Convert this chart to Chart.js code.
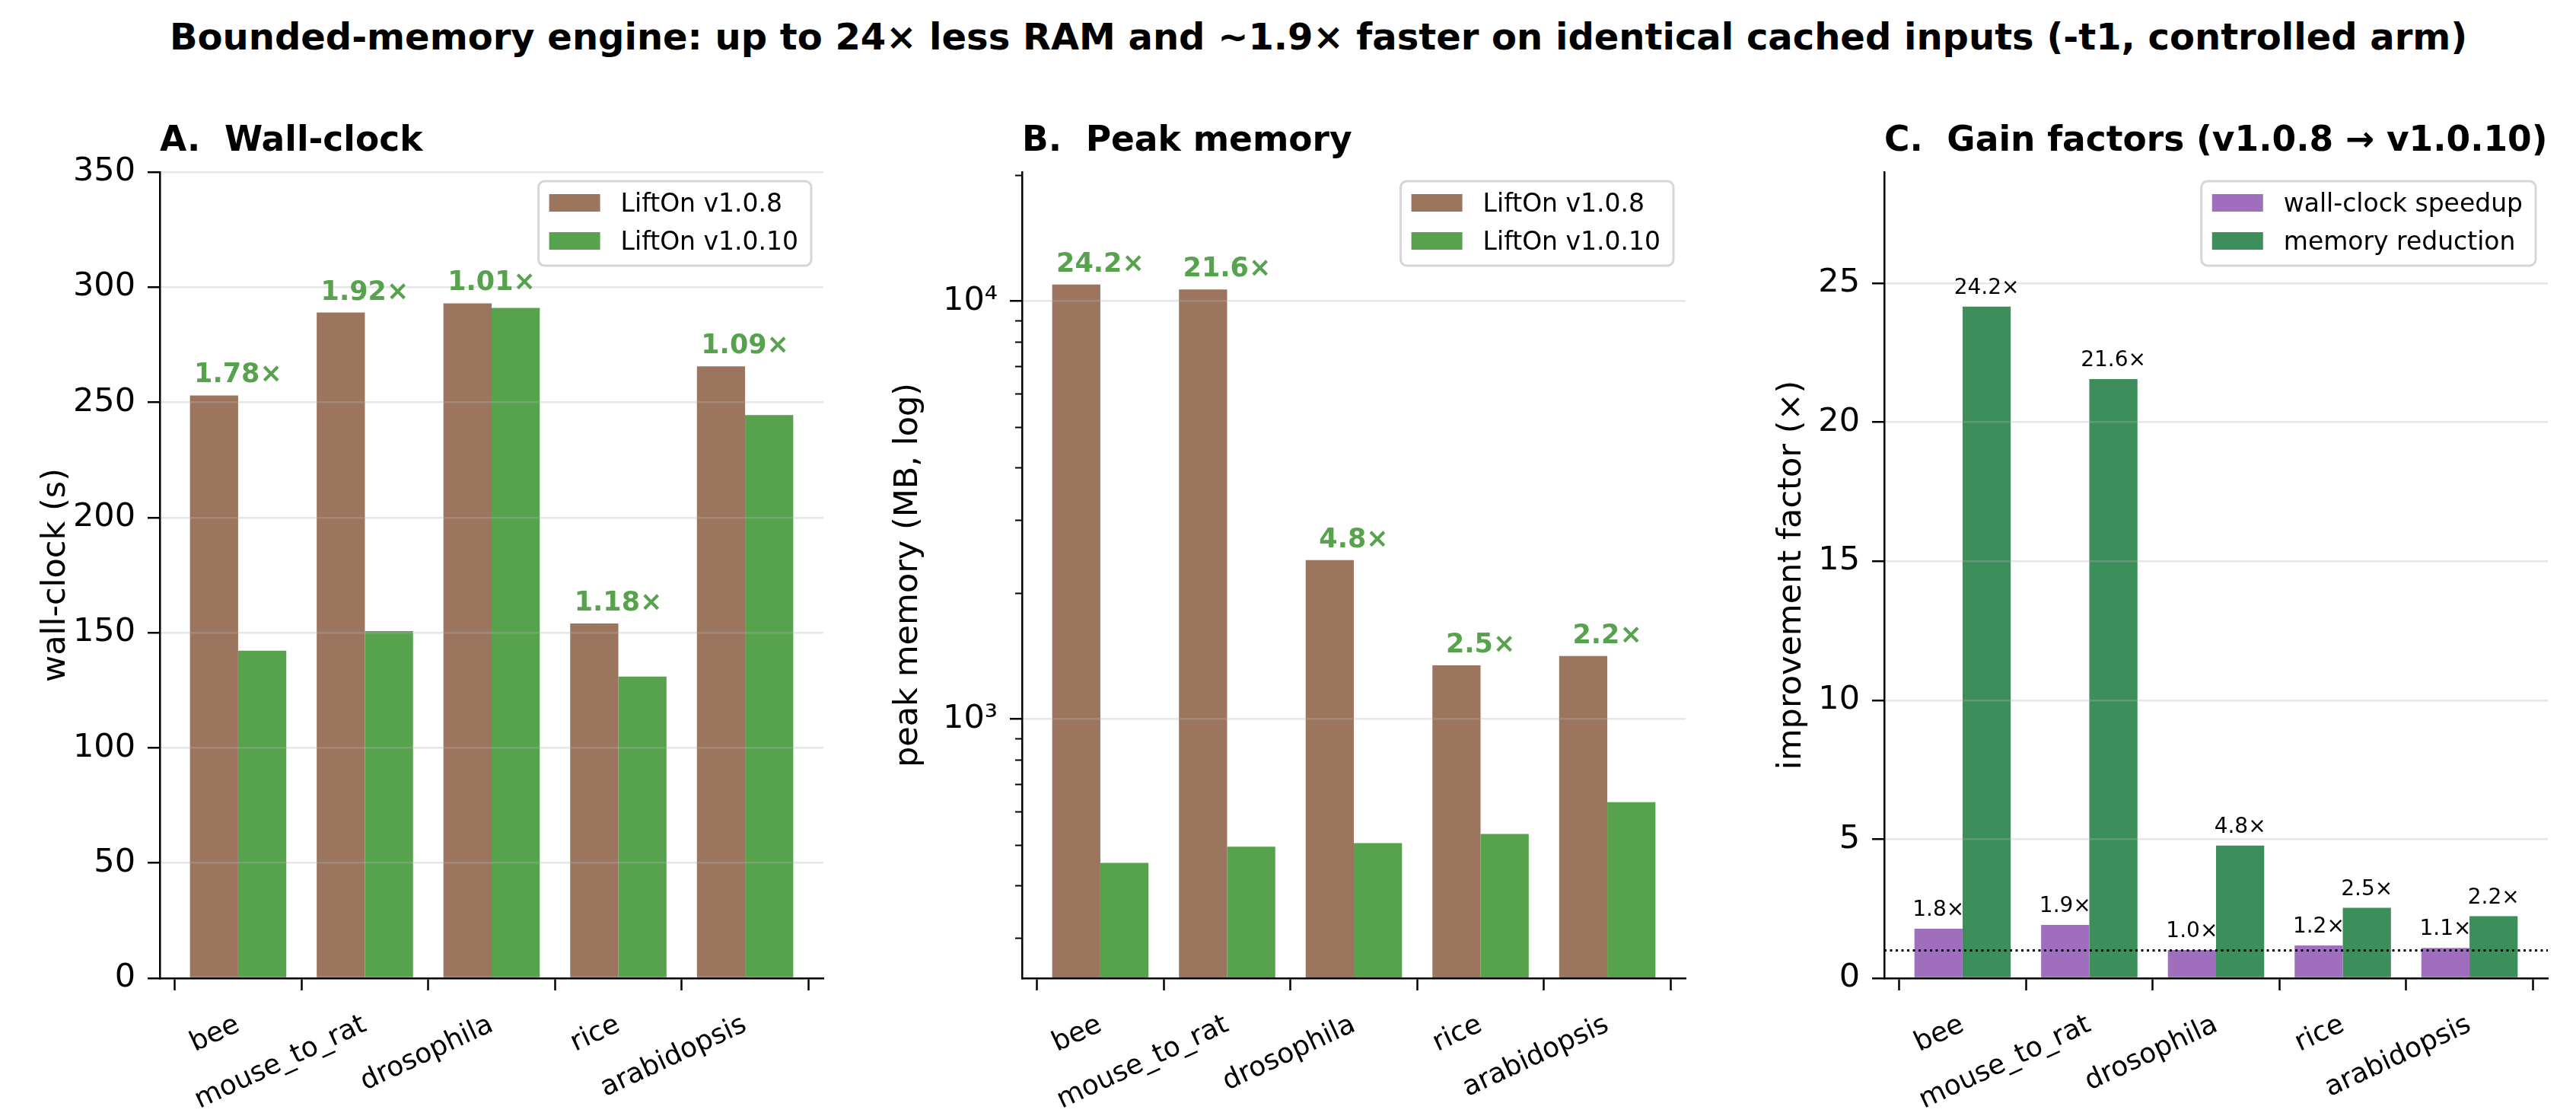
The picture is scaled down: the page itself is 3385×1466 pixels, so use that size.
<!DOCTYPE html>
<html>
<head>
<meta charset="utf-8">
<script src="https://cdn.jsdelivr.net/npm/chart.js@4.4.1/dist/chart.umd.min.js"></script>
<style>
  html, body { margin: 0; padding: 0; background: #fff; }
  body { width: 3385px; height: 1466px; position: relative; overflow: hidden; font-family: 'DejaVu Sans'; }
  #suptitle { position: absolute; left: 223px; top: 24px; font: bold 48px/1 'DejaVu Sans'; color: #000; white-space: nowrap; }
  canvas { position: absolute; top: 130px; }
</style>
</head>
<body>
<div id="suptitle">Bounded-memory engine: up to 24× less RAM and ~1.9× faster on identical cached inputs (-t1, controlled arm)</div>
<canvas id="chartA" width="1102" height="1336" style="left:10px"></canvas>
<canvas id="chartB" width="1102" height="1336" style="left:1143px"></canvas>
<canvas id="chartC" width="1102" height="1336" style="left:2276px"></canvas>
<script>
/* ── data ── */
const species = ['bee', 'mouse_to_rat', 'drosophila', 'rice', 'arabidopsis'];

const wallV108 = [253, 289, 293, 154, 265.6];
const wallV110 = [142.2, 150.7, 291, 131, 244.5];
const wallRatioLabels = ['1.78×', '1.92×', '1.01×', '1.18×', '1.09×'];

const memV108 = [10950, 10660, 2400, 1345, 1415];
const memV110 = [453, 495, 505, 531, 633];
const memRatioLabels = ['24.2×', '21.6×', '4.8×', '2.5×', '2.2×'];

const speedup = [1.78, 1.92, 1.01, 1.18, 1.09];
const memReduction = [24.16, 21.55, 4.77, 2.53, 2.23];
const speedupLabels = ['1.8×', '1.9×', '1.0×', '1.2×', '1.1×'];
const reductionLabels = ['24.2×', '21.6×', '4.8×', '2.5×', '2.2×'];

const wallTicks = [0, 50, 100, 150, 200, 250, 300, 350];
const memTicks = [300, 400, 500, 600, 700, 800, 900, 1000, 2000, 3000, 4000, 5000, 6000, 7000, 8000, 9000, 10000, 20000];
const memMajorLabels = { 1000: '10³', 10000: '10⁴' };
const gainTicks = [0, 5, 10, 15, 20, 25];

/* ── style ── */
const BROWN = '#9c755f', GREEN = '#57a24d', PURPLE = '#9f6fbd', DKGREEN = '#3c8e5b';
const GRID = 'rgba(176,176,176,0.32)';
const FONT = "'DejaVu Sans'";
Chart.defaults.font.family = FONT;
Chart.defaults.color = '#000';

const toXY = arr => arr.map((v, i) => ({ x: i, y: v }));

function catAxis() {
  return {
    type: 'linear', min: -0.618, max: 4.618, offset: false,
    afterBuildTicks: s => { s.ticks = species.map((_, i) => ({ value: i })); },
    afterFit: s => { s.height = 181; },
    ticks: { autoSkip: false, minRotation: 25, maxRotation: 25, padding: 24, color: '#000', font: { size: 36 },
             callback: v => species[v] },
    grid: { display: true, drawOnChartArea: false, drawTicks: true, tickLength: 16, tickWidth: 2.5, tickColor: '#000', z: 1 },
    border: { display: true, color: '#000', width: 2.5, z: 2 }
  };
}

function valueAxis(title, titlePad, extra) {
  return Object.assign({
    afterFit: s => { s.width = 200; },
    ticks: { color: '#000', font: { size: 43 }, padding: 16, autoSkip: false },
    grid: { color: GRID, lineWidth: 2.5, tickLength: 16, tickWidth: 2.5, tickColor: '#000', z: 1 },
    border: { color: '#000', width: 2.5, z: 2 },
    title: { display: true, text: title, color: '#000', font: { size: 43 }, padding: { top: titlePad, bottom: 0 } }
  }, extra);
}

/* ── panel decorations: titles, legend, value labels, minor ticks, reference line ── */
const panelDecor = {
  id: 'panelDecor',
  afterDraw(chart, args, o) {
    const ctx = chart.ctx, area = chart.chartArea, xs = chart.scales.x, ys = chart.scales.y;
    ctx.save();
    ctx.textBaseline = 'alphabetic';

    ctx.fillStyle = '#000';
    ctx.textAlign = 'left';
    ctx.font = 'bold 45.5px ' + FONT;
    ctx.fillText(o.title, area.left, area.top - 28);

    if (o.minorTicks) {
      ctx.strokeStyle = '#000'; ctx.lineWidth = 2;
      o.minorTicks.forEach(v => {
        if (memMajorLabels[v]) return;
        const py = Math.round(ys.getPixelForValue(v)) + 0.5;
        ctx.beginPath(); ctx.moveTo(area.left, py); ctx.lineTo(area.left - 9, py); ctx.stroke();
      });
    }

    if (o.refLine != null) {
      const py = ys.getPixelForValue(o.refLine);
      ctx.strokeStyle = '#000'; ctx.lineWidth = 3; ctx.setLineDash([3, 4.5]);
      ctx.beginPath(); ctx.moveTo(area.left, py); ctx.lineTo(area.right, py); ctx.stroke();
      ctx.setLineDash([]);
    }

    if (o.groupLabels) {
      const m0 = chart.getDatasetMeta(0), m1 = chart.getDatasetMeta(1);
      ctx.font = 'bold 35px ' + FONT; ctx.fillStyle = GREEN; ctx.textAlign = 'center';
      o.groupLabels.forEach((t, i) => {
        const top = Math.min(m0.data[i].y, m1.data[i].y);
        ctx.fillText(t, xs.getPixelForValue(i), top - 17);
      });
    }

    if (o.barLabels) {
      ctx.font = '28px ' + FONT; ctx.fillStyle = '#000'; ctx.textAlign = 'center';
      o.barLabels.forEach((labels, d) => {
        const m = chart.getDatasetMeta(d);
        labels.forEach((t, i) => ctx.fillText(t, m.data[i].x, m.data[i].y - 17));
      });
    }

    // legend
    ctx.font = '33px ' + FONT;
    const sets = chart.data.datasets;
    const tw = Math.max(...sets.map(d => ctx.measureText(d.label).width));
    const w = 108 + tw + 17, h = 111;
    const lx = area.right - 16 - w, ly = area.top + 12;
    ctx.fillStyle = 'rgba(255,255,255,0.8)'; ctx.strokeStyle = '#d6d6d6'; ctx.lineWidth = 3;
    ctx.beginPath(); ctx.roundRect(lx, ly, w, h, 8); ctx.fill(); ctx.stroke();
    ctx.textAlign = 'left';
    sets.forEach((d, i) => {
      ctx.fillStyle = d.backgroundColor;
      ctx.fillRect(lx + 14, ly + 17 + i * 50, 67, 23);
      ctx.fillStyle = '#000';
      ctx.fillText(d.label, lx + 108, ly + 40 + i * 50);
    });
    ctx.restore();
  }
};

const baseOpts = {
  responsive: false, animation: false, devicePixelRatio: 1, events: [],
  layout: { padding: { top: 96, right: 30, bottom: 0, left: 0 } },
  plugins: { legend: { display: false }, tooltip: { enabled: false } }
};
const barDefaults = { categoryPercentage: 0.76, barPercentage: 1.0, borderWidth: 0 };

/* ── A. wall-clock ── */
new Chart(document.getElementById('chartA'), {
  type: 'bar',
  data: { datasets: [
    Object.assign({ label: 'LiftOn v1.0.8', data: toXY(wallV108), backgroundColor: BROWN }, barDefaults),
    Object.assign({ label: 'LiftOn v1.0.10', data: toXY(wallV110), backgroundColor: GREEN }, barDefaults)
  ] },
  options: Object.assign({}, baseOpts, {
    scales: {
      x: catAxis(),
      y: valueAxis('wall-clock (s)', 38, {
        type: 'linear', min: 0, max: 350,
        afterBuildTicks: s => { s.ticks = wallTicks.map(v => ({ value: v })); }
      })
    },
    plugins: Object.assign({}, baseOpts.plugins, { panelDecor: { title: 'A.  Wall-clock', groupLabels: wallRatioLabels } })
  }),
  plugins: [panelDecor]
});

/* ── B. peak memory (log) ── */
new Chart(document.getElementById('chartB'), {
  type: 'bar',
  data: { datasets: [
    Object.assign({ label: 'LiftOn v1.0.8', data: toXY(memV108), backgroundColor: BROWN }, barDefaults),
    Object.assign({ label: 'LiftOn v1.0.10', data: toXY(memV110), backgroundColor: GREEN }, barDefaults)
  ] },
  options: Object.assign({}, baseOpts, {
    scales: {
      x: catAxis(),
      y: valueAxis('peak memory (MB, log)', 25, {
        type: 'logarithmic', min: 240, max: 20350,
        afterBuildTicks: s => { s.ticks = memTicks.map(v => ({ value: v })); }
      })
    },
    plugins: Object.assign({}, baseOpts.plugins, { panelDecor: { title: 'B.  Peak memory', groupLabels: memRatioLabels, minorTicks: memTicks } })
  }),
  plugins: [panelDecor]
});
const chB = Chart.getChart('chartB');
chB.options.scales.y.ticks.callback = v => memMajorLabels[v] || '';
chB.options.scales.y.grid.color = c => (c.tick && memMajorLabels[c.tick.value]) ? GRID : 'rgba(0,0,0,0)';
chB.options.scales.y.grid.tickColor = c => (c.tick && memMajorLabels[c.tick.value]) ? '#000' : 'rgba(0,0,0,0)';
chB.update();

/* ── C. gain factors ── */
new Chart(document.getElementById('chartC'), {
  type: 'bar',
  data: { datasets: [
    Object.assign({ label: 'wall-clock speedup', data: toXY(speedup), backgroundColor: PURPLE }, barDefaults),
    Object.assign({ label: 'memory reduction', data: toXY(memReduction), backgroundColor: DKGREEN }, barDefaults)
  ] },
  options: Object.assign({}, baseOpts, {
    scales: {
      x: catAxis(),
      y: valueAxis('improvement factor (×)', 53, {
        type: 'linear', min: 0, max: 29,
        afterBuildTicks: s => { s.ticks = gainTicks.map(v => ({ value: v })); }
      })
    },
    plugins: Object.assign({}, baseOpts.plugins, {
      panelDecor: { title: 'C.  Gain factors (v1.0.8 → v1.0.10)', barLabels: [speedupLabels, reductionLabels], refLine: 1 }
    })
  }),
  plugins: [panelDecor]
});
</script>
</body>
</html>
